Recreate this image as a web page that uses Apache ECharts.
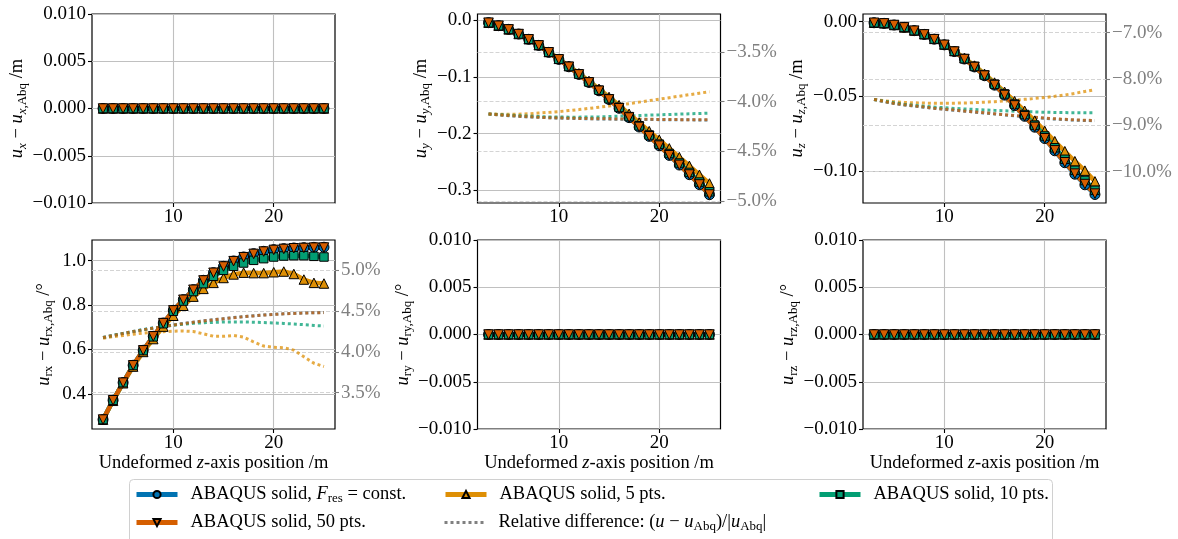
<!DOCTYPE html>
<html><head><meta charset="utf-8">
<script src="https://cdn.jsdelivr.net/npm/echarts@6/dist/echarts.min.js"></script>
<style>html,body{margin:0;padding:0;background:#fff}#c{width:1178px;height:539px}</style>
</head><body><div id="c"></div>
<script>
// ---------------- DATA ----------------
const positions = [3,4,5,6,7,8,9,10,11,12,13,14,15,16,17,18,19,20,21,22,23,24,25];
const zeros = [0,0,0,0,0,0,0,0,0,0,0,0,0,0,0,0,0,0,0,0,0,0,0];

// u_y - u_y,Abq  /m
const uyFres = [-0.0047,-0.0100,-0.0165,-0.0247,-0.0340,-0.0447,-0.0570,-0.0694,-0.0824,-0.0959,-0.1100,-0.1247,-0.1400,-0.1555,-0.1720,-0.1885,-0.2050,-0.2215,-0.2385,-0.2555,-0.2725,-0.2900,-0.3078];
const uy5 = [-0.0047,-0.0100,-0.0165,-0.0246,-0.0338,-0.0443,-0.0563,-0.0684,-0.0810,-0.0940,-0.1074,-0.1212,-0.1356,-0.1500,-0.1653,-0.1806,-0.1958,-0.2108,-0.2261,-0.2416,-0.2569,-0.2726,-0.2880];
const uy10 = [-0.0047,-0.0100,-0.0165,-0.0246,-0.0339,-0.0445,-0.0567,-0.0690,-0.0819,-0.0953,-0.1092,-0.1237,-0.1388,-0.1540,-0.1702,-0.1864,-0.2026,-0.2187,-0.2352,-0.2519,-0.2685,-0.2855,-0.3027];
const uy50 = [-0.0047,-0.0100,-0.0165,-0.0247,-0.0340,-0.0447,-0.0569,-0.0693,-0.0823,-0.0958,-0.1099,-0.1246,-0.1399,-0.1554,-0.1718,-0.1883,-0.2048,-0.2213,-0.2382,-0.2552,-0.2722,-0.2897,-0.3074];
// relative difference u_y  /%
const uyRelFres = [-4.124,-4.133,-4.141,-4.148,-4.153,-4.158,-4.162,-4.165,-4.168,-4.170,-4.172,-4.174,-4.175,-4.177,-4.178,-4.179,-4.180,-4.181,-4.182,-4.183,-4.183,-4.184,-4.184];
const uyRel5 = [-4.124,-4.126,-4.127,-4.126,-4.122,-4.115,-4.108,-4.100,-4.090,-4.080,-4.068,-4.056,-4.045,-4.032,-4.020,-4.005,-3.990,-3.975,-3.960,-3.945,-3.930,-3.915,-3.900];
const uyRel10 = [-4.124,-4.130,-4.136,-4.141,-4.146,-4.150,-4.153,-4.155,-4.156,-4.156,-4.155,-4.153,-4.150,-4.146,-4.143,-4.140,-4.136,-4.133,-4.129,-4.126,-4.122,-4.119,-4.115];
const uyRel50 = [-4.124,-4.132,-4.140,-4.147,-4.152,-4.157,-4.161,-4.164,-4.167,-4.169,-4.171,-4.172,-4.173,-4.175,-4.176,-4.177,-4.178,-4.179,-4.180,-4.181,-4.181,-4.182,-4.182];

// u_z - u_z,Abq  /m
const uzFres = [-0.0007,-0.0011,-0.0022,-0.0038,-0.0060,-0.0085,-0.0117,-0.0155,-0.0200,-0.0250,-0.0303,-0.0362,-0.0425,-0.0492,-0.0562,-0.0634,-0.0707,-0.0783,-0.0865,-0.0945,-0.1022,-0.1093,-0.1158];
const uz5 = [-0.0007,-0.0011,-0.0022,-0.0038,-0.0059,-0.0084,-0.0115,-0.0153,-0.0196,-0.0244,-0.0294,-0.0349,-0.0408,-0.0470,-0.0533,-0.0597,-0.0663,-0.0732,-0.0801,-0.0868,-0.0935,-0.0998,-0.1070];
const uz10 = [-0.0007,-0.0011,-0.0022,-0.0038,-0.0060,-0.0085,-0.0116,-0.0154,-0.0199,-0.0248,-0.0300,-0.0357,-0.0419,-0.0484,-0.0552,-0.0622,-0.0693,-0.0766,-0.0845,-0.0922,-0.0996,-0.1064,-0.1130];
const uz50 = [-0.0007,-0.0011,-0.0022,-0.0038,-0.0060,-0.0085,-0.0117,-0.0155,-0.0200,-0.0250,-0.0303,-0.0361,-0.0424,-0.0491,-0.0561,-0.0633,-0.0705,-0.0781,-0.0862,-0.0942,-0.1018,-0.1088,-0.1152];
// relative difference u_z  /%
const uzRelFres = [-8.442,-8.490,-8.530,-8.560,-8.585,-8.610,-8.635,-8.655,-8.675,-8.695,-8.715,-8.735,-8.755,-8.775,-8.795,-8.815,-8.833,-8.850,-8.865,-8.877,-8.888,-8.896,-8.903];
const uzRel5 = [-8.442,-8.470,-8.490,-8.505,-8.515,-8.520,-8.525,-8.525,-8.522,-8.518,-8.510,-8.500,-8.490,-8.475,-8.460,-8.440,-8.420,-8.400,-8.375,-8.345,-8.310,-8.270,-8.230];
const uzRel10 = [-8.442,-8.480,-8.515,-8.545,-8.570,-8.590,-8.607,-8.620,-8.635,-8.647,-8.658,-8.668,-8.678,-8.688,-8.697,-8.705,-8.712,-8.718,-8.722,-8.726,-8.728,-8.730,-8.730];
const uzRel50 = [-8.442,-8.488,-8.528,-8.558,-8.583,-8.607,-8.632,-8.652,-8.672,-8.692,-8.712,-8.731,-8.751,-8.771,-8.791,-8.810,-8.828,-8.845,-8.860,-8.872,-8.883,-8.891,-8.898];

// u_rx - u_rx,Abq  /deg
const urxFres = [0.2845,0.3715,0.4510,0.5290,0.5965,0.6595,0.7190,0.7765,0.8245,0.8695,0.9115,0.9460,0.9745,0.9985,1.0165,1.0315,1.0420,1.0495,1.0540,1.0570,1.0585,1.0600,1.0605];
const urx5 = [0.2840,0.3690,0.4480,0.5230,0.5890,0.6470,0.7030,0.7520,0.7970,0.8380,0.8730,0.9000,0.9220,0.9380,0.9460,0.9440,0.9440,0.9480,0.9510,0.9400,0.9150,0.9000,0.8970];
const urx10 = [0.2845,0.3712,0.4505,0.5280,0.5950,0.6570,0.7160,0.7720,0.8180,0.8610,0.8965,0.9295,0.9565,0.9745,0.9895,1.0015,1.0090,1.0165,1.0210,1.0225,1.0225,1.0195,1.0165];
const urx50 = [0.2845,0.3714,0.4508,0.5288,0.5962,0.6592,0.7187,0.7761,0.8240,0.8690,0.9109,0.9454,0.9738,0.9977,1.0156,1.0305,1.0410,1.0484,1.0529,1.0558,1.0573,1.0587,1.0592];
// relative difference u_rx  /%
const urxRelFres = [4.175,4.200,4.225,4.248,4.270,4.290,4.310,4.328,4.346,4.362,4.378,4.392,4.405,4.418,4.430,4.440,4.450,4.458,4.465,4.470,4.475,4.478,4.480];
const urxRel5 = [4.165,4.185,4.200,4.215,4.228,4.237,4.245,4.252,4.255,4.248,4.220,4.190,4.190,4.200,4.180,4.120,4.070,4.055,4.050,4.020,3.940,3.860,3.820];
const urxRel10 = [4.175,4.200,4.225,4.248,4.270,4.290,4.308,4.325,4.338,4.348,4.355,4.360,4.364,4.365,4.365,4.362,4.358,4.353,4.347,4.340,4.332,4.323,4.315];
const urxRel50 = [4.175,4.199,4.224,4.247,4.269,4.289,4.309,4.327,4.345,4.361,4.377,4.391,4.404,4.417,4.429,4.439,4.449,4.457,4.464,4.469,4.474,4.477,4.479];

// tick values
const xTicks = [10, 20];
const uyTicks = [-0.3, -0.2, -0.1, 0.0];
const uzTicks = [-0.10, -0.05, 0.00];
const urxTicks = [0.4, 0.6, 0.8, 1.0];
const uyRelTicks = [-5.0, -4.5, -4.0, -3.5];
const uzRelTicks = [-10.0, -9.0, -8.0, -7.0];
const urxRelTicks = [3.5, 4.0, 4.5, 5.0];

// ---------------- STYLE ----------------
const FONT = 'Liberation Serif';
const FS = 18.5, TFS = 19, SUBFS = 13;
const COL = {fres:'#0173b2', p5:'#de8f05', p10:'#029e73', p50:'#d55e00', rel:'#808080'};
const SER = {
  fres:{label:'{sp|}{n|ABAQUS solid, }{i|F}{sub|res}{n| = const.}', color:COL.fres, symbol:'circle', size:10, rot:0},
  p5:{label:'{sp|}{n|ABAQUS solid, 5 pts.}', color:COL.p5, symbol:'triangle', size:9.5, rot:0},
  p10:{label:'{sp|}{n|ABAQUS solid, 10 pts.}', color:COL.p10, symbol:'rect', size:8.5, rot:0},
  p50:{label:'{sp|}{n|ABAQUS solid, 50 pts.}', color:COL.p50, symbol:'triangle', size:9.5, rot:180},
  rel:{label:'{sp|}{n|Relative difference: (}{i|u}{n| − }{i|u}{sub|Abq}{n|)/|}{i|u}{sub|Abq}{n||}'}
};
const rich = {
  n:{fontFamily:FONT, fontSize:FS, color:'#000'},
  i:{fontFamily:FONT, fontSize:FS, fontStyle:'italic', color:'#000'},
  sub:{fontFamily:FONT, fontSize:SUBFS, color:'#000', padding:[9,0,0,0]},
  si:{fontFamily:FONT, fontSize:SUBFS, fontStyle:'italic', color:'#000', padding:[9,0,0,0]},
  sp:{width:8}
};

const boxes = [[92,14],[477.5,14],[863,14],[92,240],[477.5,240],[863,240]];
const GW = 243, GH = 189;
const nameGaps = [60, 45, 55, 37, 61, 62];

const minus = s => s.replace('-', '\u2212');
const fmt = d => v => minus(Number(v).toFixed(d));
const fmtPct = v => minus(Number(v).toFixed(1)) + '%';

const grids = boxes.map(b => ({left:b[0], top:b[1], width:GW, height:GH, show:true, borderColor:'#000', borderWidth:1.2, backgroundColor:'transparent', containLabel:false}));

const xAxes = boxes.map((b, i) => ({
  type:'value', gridIndex:i, min:1.9, max:26.1, position:'bottom',
  axisLine:{show:false, onZero:false},
  axisTick:{show:true, length:4, lineStyle:{color:'#000', width:1.1}, customValues:xTicks},
  axisLabel:{customValues:xTicks, fontFamily:FONT, fontSize:TFS, color:'#000', margin:5},
  splitLine:{show:true, lineStyle:{color:'#c0c0c0', width:1.1}},
  name: i >= 3 ? '{n|Undeformed }{i|z}{n|-axis position /m}' : '',
  nameLocation:'middle', nameGap:23,
  nameTextStyle:{rich:rich, fontFamily:FONT, fontSize:FS}
}));

function leftY(i, min, max, ticks, d, name) {
  return {
    type:'value', gridIndex:i, min:min, max:max, position:'left',
    axisLine:{show:false, onZero:false},
    axisTick:{show:true, length:4, lineStyle:{color:'#000', width:1.1}, customValues:ticks},
    axisLabel:{customValues:ticks, formatter:fmt(d), fontFamily:FONT, fontSize:TFS, color:'#000', margin:6},
    splitLine:{show:true, lineStyle:{color:'#c0c0c0', width:1.1}},
    name:name, nameLocation:'middle', nameRotate:90, nameGap:nameGaps[i],
    nameTextStyle:{rich:rich, fontFamily:FONT, fontSize:FS}
  };
}
function rightY(i, min, max, ticks) {
  return {
    type:'value', gridIndex:i, min:min, max:max, position:'right',
    axisLine:{show:false, onZero:false},
    axisTick:{show:true, length:4, lineStyle:{color:'#808080', width:1.1}, customValues:ticks},
    axisLabel:{customValues:ticks, formatter:fmtPct, fontFamily:FONT, fontSize:TFS, color:'#808080', margin:6},
    splitLine:{show:true, lineStyle:{color:'#d4d4d4', width:1, type:[4,2]}}
  };
}
const evenTicks = [-0.010, -0.005, 0.000, 0.005, 0.010];
const yName = (s) => '{i|u}{si|' + s + '}{n| − }{i|u}{si|' + s + '}{sub|,Abq}{n| /m}';
const yNameR = (s) => '{i|u}{sub|' + s + '}{n| − }{i|u}{sub|' + s + ',Abq}{n| /°}';

const yAxes = [
  leftY(0, -0.01, 0.01, evenTicks, 3, yName('x')),
  leftY(1, -0.3224, 0.0106, uyTicks, 1, yName('y')),
  leftY(2, -0.1215, 0.00517, uzTicks, 2, yName('z')),
  leftY(3, 0.242, 1.093, urxTicks, 1, yNameR('rx')),
  leftY(4, -0.01, 0.01, evenTicks, 3, yNameR('ry')),
  leftY(5, -0.01, 0.01, evenTicks, 3, yNameR('rz')),
  rightY(1, -5.02, -3.118, uyRelTicks),
  rightY(2, -10.68, -6.595, uzRelTicks),
  rightY(3, 3.056, 5.367, urxRelTicks)
];

const pairs = arr => positions.map((x, k) => [x, arr[k]]);
function mainS(key, gi, arr) {
  const s = SER[key];
  return {type:'line', name:key, xAxisIndex:gi, yAxisIndex:gi, data:pairs(arr),
    color:s.color, symbol:s.symbol, symbolSize:s.size, symbolRotate:s.rot, showSymbol:true,
    lineStyle:{width:4.5, color:s.color}, itemStyle:{color:s.color, borderColor:'#000', borderWidth:1},
    z:3, animation:false, silent:true};
}
function relS(key, gi, yi, arr) {
  return {type:'line', name:'rel_' + key + '_' + gi, xAxisIndex:gi, yAxisIndex:yi, data:pairs(arr),
    symbol:'none', showSymbol:false, color:SER[key].color,
    lineStyle:{width:3, color:SER[key].color, type:[3,3], opacity:0.75},
    z:2, animation:false, silent:true};
}

const series = [];
const leftSets = [
  [zeros, zeros, zeros, zeros],
  [uyFres, uy5, uy10, uy50],
  [uzFres, uz5, uz10, uz50],
  [urxFres, urx5, urx10, urx50],
  [zeros, zeros, zeros, zeros],
  [zeros, zeros, zeros, zeros]
];
const relSets = {1:[6, uyRelFres, uyRel5, uyRel10, uyRel50], 2:[7, uzRelFres, uzRel5, uzRel10, uzRel50], 3:[8, urxRelFres, urxRel5, urxRel10, urxRel50]};
const keys = ['fres', 'p5', 'p10', 'p50'];
for (let g = 0; g < 6; g++) {
  if (relSets[g]) {
    const r = relSets[g];
    keys.forEach((k, j) => series.push(relS(k, g, r[0], r[j + 1])));
  }
  keys.forEach((k, j) => series.push(mainS(k, g, leftSets[g][j])));
}
series.push({type:'line', name:'rel', xAxisIndex:0, yAxisIndex:0, data:[], color:COL.rel, symbol:'none',
  itemStyle:{opacity:0}, lineStyle:{width:3, color:COL.rel, type:[3,3]}, animation:false});

const legendPos = [['fres',134,485],['p50',134,513],['p5',443,485],['rel',443,513],['p10',817,485]];
const legends = legendPos.map(p => ({
  data:[p[0]], left:p[1], top:p[2], padding:0, itemWidth:41, itemHeight:9, selectedMode:false,
  lineStyle: p[0] === 'rel' ? {width:3, type:[3,3]} : {width:5},
  formatter: name => SER[name].label,
  textStyle:{rich:rich, fontFamily:FONT, fontSize:FS}
}));

const chart = echarts.init(document.getElementById('c'), null, {renderer:'canvas'});
chart.setOption({
  animation:false,
  backgroundColor:'#fff',
  textStyle:{fontFamily:FONT},
  grid:grids, xAxis:xAxes, yAxis:yAxes, series:series, legend:legends,
  graphic:[{type:'rect', z:0, shape:{x:129.5, y:479.5, width:923, height:80, r:4}, style:{fill:'#fff', stroke:'#d0d0d0', lineWidth:1}}]
});
</script></body></html>
